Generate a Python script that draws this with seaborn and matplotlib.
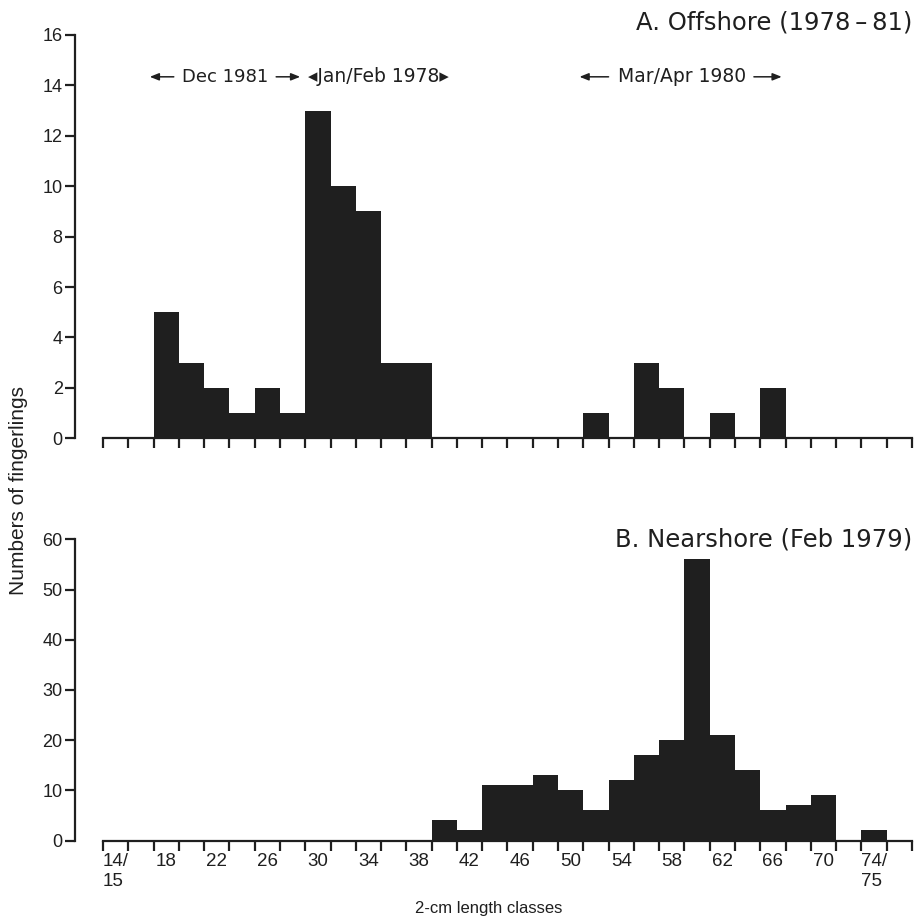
import numpy as np
import pandas as pd
import matplotlib
matplotlib.use("Agg")
import matplotlib.pyplot as plt
import seaborn as sns

# 2-cm length classes (lower bound of each class, cm)
length_classes = list(range(14, 78, 2))

# A. Offshore (1978-81) counts per class
offshore_counts = [0, 0, 5, 3, 2, 1, 2, 1, 13, 10, 9, 3, 3,
                   0, 0, 0, 0, 0, 0, 1, 0, 3, 2, 0, 1, 0, 2,
                   0, 0, 0, 0, 0]

# B. Nearshore (Feb 1979) counts per class
nearshore_counts = [0, 0, 0, 0, 0, 0, 0, 0, 0, 0, 0, 0, 0,
                    4, 2, 11, 11, 13, 10, 6, 12, 17, 20, 56, 21, 14, 6,
                    7, 9, 0, 2, 0]

tick_label_classes = [15, 19, 23, 27, 31, 35, 39, 43, 47, 51, 55, 59, 63, 67, 71, 75]
tick_labels = ["14/\n15", "18", "22", "26", "30", "34", "38", "42", "46",
               "50", "54", "58", "62", "66", "70", "74/\n75"]

sns.set_theme(style="white")
plt.rcParams["font.family"] = ["Liberation Sans", "DejaVu Sans"]

ink = "#1f1f1f"
edges = [float(e) for e in range(14, 80, 2)]

df_a = pd.DataFrame({"length": length_classes, "count": offshore_counts})
df_b = pd.DataFrame({"length": length_classes, "count": nearshore_counts})

fig = plt.figure(figsize=(9.14, 9.18), dpi=100)
ax_a = fig.add_axes([0.1127, 0.5226, 0.885, 0.4393])
ax_b = fig.add_axes([0.1127, 0.0844, 0.885, 0.3281])


def style_axis(ax, ymax, ystep):
    ax.set_xlim(14, 78)
    ax.set_ylim(0, ymax)
    ax.set_yticks(np.arange(0, ymax + 1, ystep))
    ax.set_xticks(edges)
    ax.set_xticklabels([])
    for side in ("top", "right"):
        ax.spines[side].set_visible(False)
    for side in ("left", "bottom"):
        ax.spines[side].set_color(ink)
        ax.spines[side].set_linewidth(1.6)
    ax.spines["left"].set_position(("outward", 20))
    ax.tick_params(axis="both", which="major", direction="out", color=ink,
                   width=1.6, length=7, labelcolor=ink, labelsize=13,
                   left=True, bottom=True)
    ax.tick_params(axis="y", pad=2)
    ax.set_xlabel("")
    ax.set_ylabel("")


sns.histplot(data=df_a, x="length", weights="count", bins=edges, ax=ax_a,
             color=ink, alpha=1, linewidth=0, element="bars")
style_axis(ax_a, 16, 2)

sns.histplot(data=df_b, x="length", weights="count", bins=edges, ax=ax_b,
             color=ink, alpha=1, linewidth=0, element="bars")
style_axis(ax_b, 60, 10)
ax_b.set_xticks(tick_label_classes, tick_labels, minor=True)
ax_b.tick_params(axis="x", which="minor", length=0, pad=9, labelsize=13.5,
                 labelcolor=ink)
for lab in ax_b.get_xticklabels(minor=True):
    lab.set_multialignment("left")
    lab.set_verticalalignment("top")

# panel titles
title_kw = dict(ha="right", va="center", fontsize=17.5, color=ink,
                family=["DejaVu Sans"])
ax_a.text(1.0, 1.03, "A. Offshore (1978\u2009\u2013\u200981)",
          transform=ax_a.transAxes, **title_kw)
ax_b.text(1.0, 1.0, "B. Nearshore (Feb 1979)", transform=ax_b.transAxes,
          **title_kw)

# sampling-period annotations with span arrows
ann_y = 14.34
ann_kw = dict(fontsize=13.5, color=ink, va="center", ha="center",
              family=["DejaVu Sans"])
arrow_kw = dict(arrowstyle="-|>,head_length=0.45,head_width=0.18",
                color=ink, lw=1.1, shrinkA=0, shrinkB=0)


def span_arrow(tail, tip):
    ax_a.annotate("", xy=(tip, ann_y), xytext=(tail, ann_y),
                  arrowprops=arrow_kw)


span_arrow(19.6, 17.7)
ax_a.text(23.7, ann_y, "Dec 1981", **dict(ann_kw, fontsize=13))
span_arrow(27.7, 29.6)
ax_a.text(35.8, ann_y, "\u25C2Jan/Feb 1978\u25B8", **ann_kw)
span_arrow(54.0, 51.7)
ax_a.text(59.8, ann_y, "Mar/Apr 1980", **ann_kw)
span_arrow(65.5, 67.7)

fig.text(0.02, 0.466, "Numbers of fingerlings", rotation=90,
         ha="center", va="center", fontsize=15, color=ink)
fig.text(0.535, 0.002, "2-cm length classes", ha="center", va="bottom",
         fontsize=12, color=ink)

fig.savefig("out.png", dpi=100, facecolor="white")
